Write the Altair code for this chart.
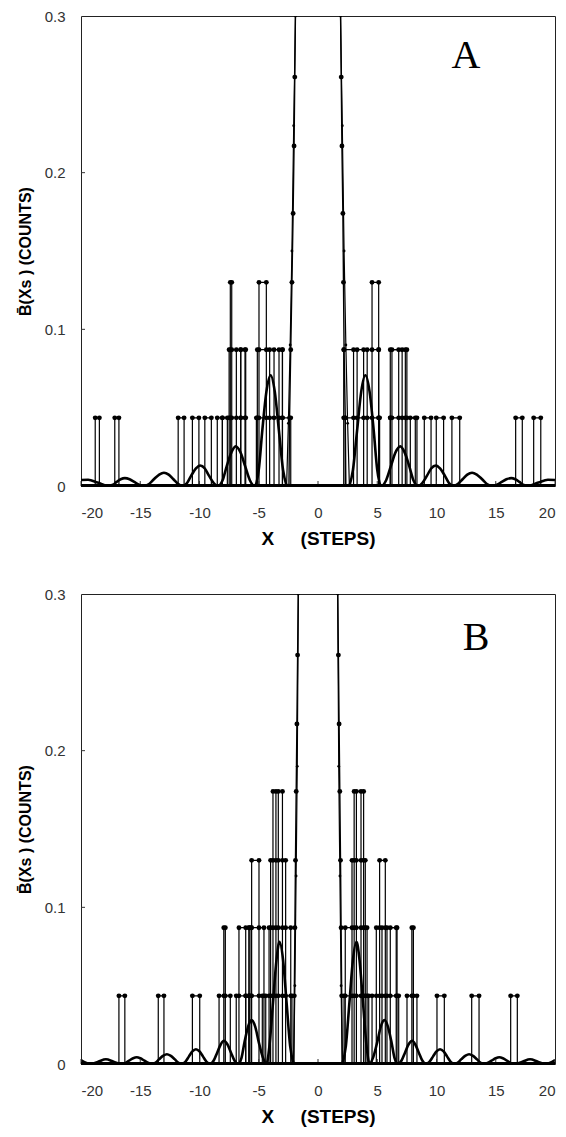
import altair as alt
import pandas as pd

# ---------------- data ----------------
X_TICKS = [-20, -15, -10, -5, 0, 5, 10, 15, 20]
Y_TICKS = [0, 0.1, 0.2, 0.3]
LEVELS = [0.0435, 0.087, 0.13, 0.174, 0.217, 0.261, 0.304]

# Panel A smooth curve: side lobes (left, right) and central lobe
A_left_x = [-20.0, -19.4, -18.6, -17.7, -17.3, -17.0, -16.65, -16.3, -15.9, -15.5, -15.1, -14.7,
            -14.25, -13.85, -13.4, -13.0, -12.6, -12.2, -11.8, -11.45,
            -11.05, -10.7, -10.3, -9.95, -9.55, -9.2, -8.8, -8.45,
            -8.05, -7.7, -7.3, -6.95, -6.55, -6.15, -5.75, -5.35,
            -5.0, -4.7, -4.35, -4.0, -3.65, -3.3, -2.95, -2.65]
A_left_y = [0.0038, 0.0040, 0.0022, 0.0, 0.0008, 0.0026, 0.0043, 0.0050, 0.0043, 0.0026, 0.0008, 0.0,
            0.0013, 0.0043, 0.0073, 0.0085, 0.0073, 0.0043, 0.0013, 0.0,
            0.0019, 0.0066, 0.0112, 0.0131, 0.0112, 0.0066, 0.0019, 0.0,
            0.0037, 0.0127, 0.0216, 0.0253, 0.0216, 0.0127, 0.0037, 0.0,
            0.0103, 0.0355, 0.0604, 0.0707, 0.0604, 0.0355, 0.0103, 0.0]
A_mid_x = [-2.65, -2.5, -2.35, -2.2, -2.05, -1.9, -1.6, 1.6, 1.9, 2.05, 2.2, 2.35, 2.5, 2.65]
A_mid_y = [0.0, 0.04, 0.09, 0.15, 0.23, 0.30, 0.50, 0.50, 0.30, 0.23, 0.15, 0.09, 0.04, 0.0]
A_right_x = [2.65, 2.95, 3.3, 3.65, 4.0, 4.35, 4.7, 5.0, 5.35,
             5.75, 6.15, 6.55, 6.95, 7.3, 7.7, 8.05, 8.45,
             8.8, 9.2, 9.55, 9.95, 10.3, 10.7, 11.05, 11.45,
             11.8, 12.2, 12.6, 13.0, 13.4, 13.85, 14.25, 14.7,
             15.1, 15.5, 15.9, 16.3, 16.65, 17.0, 17.3, 17.7, 18.6, 19.4, 20.0]
A_right_y = [0.0, 0.0103, 0.0355, 0.0604, 0.0707, 0.0604, 0.0355, 0.0103, 0.0,
             0.0037, 0.0127, 0.0216, 0.0253, 0.0216, 0.0127, 0.0037, 0.0,
             0.0019, 0.0066, 0.0112, 0.0131, 0.0112, 0.0066, 0.0019, 0.0,
             0.0013, 0.0043, 0.0073, 0.0085, 0.0073, 0.0043, 0.0013, 0.0,
             0.0008, 0.0026, 0.0043, 0.0050, 0.0043, 0.0026, 0.0008, 0.0, 0.0022, 0.0040, 0.0038]

# Panel A central staircase of counts
A_stair_x = [-2.45, -2.4, -2.3, -2.2, -2.1, -2.02, -1.96, -1.9, -1.85,
             1.85, 1.9, 1.96, 2.02, 2.1, 2.15, 2.2, 2.3, 2.35]
A_stair_y = [0.0, 0.0435, 0.087, 0.13, 0.174, 0.217, 0.261, 0.304, 0.35,
             0.35, 0.304, 0.261, 0.217, 0.174, 0.13, 0.087, 0.0435, 0.0]

# Panel A count bars
A_bar_left = [-18.8, -17.15, -11.8, -10.6, -9.55, -8.5, -8.07, -7.5, -7.4, -6.89, -6.52,
              -5.2, -5.12, -4.98, -4.08, -3.29,
              2.3, 2.17, 3.0, 3.85, 4.56, 6.1, 6.1, 6.24, 7.1, 7.79, 8.97, 9.98, 11.3, 16.68, 18.2]
A_bar_right = [-18.45, -16.8, -11.3, -10.05, -9.0, -8.07, -7.65, -6.1, -7.28, -6.52, -6.16,
               -2.3, -3.0, -4.36, -3.71, -3.0,
               5.2, 5.12, 3.3, 4.15, 5.12, 8.35, 7.5, 6.81, 7.37, 8.21, 9.54, 10.6, 11.96, 17.24, 18.8]
A_bar_height = [0.0435, 0.0435, 0.0435, 0.0435, 0.0435, 0.0435, 0.0435, 0.087, 0.13, 0.087, 0.087,
                0.0435, 0.087, 0.13, 0.087, 0.087,
                0.0435, 0.087, 0.087, 0.087, 0.13, 0.0435, 0.087, 0.087, 0.087, 0.0435, 0.0435, 0.0435,
                0.0435, 0.0435, 0.0435]

# Panel B smooth curve
B_left_x = [-20.0, -19.2, -18.55, -17.9, -17.25, -16.6, -16.25, -15.95, -15.6, -15.3, -15.0, -14.65,
            -14.3, -14.0, -13.7, -13.4, -13.05, -12.75, -12.45, -12.1, -11.8, -11.5,
            -11.2, -10.9, -10.6, -10.3, -10.0, -9.7, -9.4, -9.1,
            -8.8, -8.5, -8.2, -7.95, -7.65, -7.35, -7.05, -6.75,
            -6.45, -6.2, -5.9, -5.6, -5.3, -5.0, -4.65, -4.35,
            -4.1, -3.8, -3.5, -3.25, -2.95, -2.65, -2.35, -2.05]
B_left_y = [0.0025, 0.0, 0.0015, 0.0030, 0.0015, 0.0, 0.0006, 0.0021, 0.0037, 0.0043, 0.0037, 0.0021,
            0.0006, 0.0, 0.0009, 0.0031, 0.0053, 0.0062, 0.0053, 0.0031, 0.0009, 0.0,
            0.0014, 0.0047, 0.0080, 0.0094, 0.0080, 0.0047, 0.0014, 0.0,
            0.0022, 0.0074, 0.0126, 0.0148, 0.0126, 0.0074, 0.0022, 0.0,
            0.0041, 0.014, 0.0239, 0.028, 0.0239, 0.014, 0.0041, 0.0,
            0.0114, 0.039, 0.0666, 0.078, 0.0666, 0.039, 0.0114, 0.0]
B_mid_x = [-2.05, -1.95, -1.85, -1.75, -1.66, -1.4, 1.4, 1.66, 1.75, 1.85, 1.95, 2.05]
B_mid_y = [0.0, 0.05, 0.12, 0.19, 0.30, 0.50, 0.50, 0.30, 0.19, 0.12, 0.05, 0.0]
B_right_x = [2.05, 2.35, 2.65, 2.95, 3.25, 3.5, 3.8, 4.1, 4.35,
             4.65, 5.0, 5.3, 5.6, 5.9, 6.2, 6.45, 6.75,
             7.05, 7.35, 7.65, 7.95, 8.2, 8.5, 8.8, 9.1,
             9.4, 9.7, 10.0, 10.3, 10.6, 10.9, 11.2, 11.5,
             11.8, 12.1, 12.45, 12.75, 13.05, 13.4, 13.7, 14.0,
             14.3, 14.65, 15.0, 15.3, 15.6, 15.95, 16.25, 16.6, 17.25, 17.9, 18.55, 19.2, 20.0]
B_right_y = [0.0, 0.0114, 0.039, 0.0666, 0.078, 0.0666, 0.039, 0.0114, 0.0,
             0.0041, 0.014, 0.0239, 0.028, 0.0239, 0.014, 0.0041, 0.0,
             0.0022, 0.0074, 0.0126, 0.0148, 0.0126, 0.0074, 0.0022, 0.0,
             0.0014, 0.0047, 0.0080, 0.0094, 0.0080, 0.0047, 0.0014, 0.0,
             0.0009, 0.0031, 0.0053, 0.0062, 0.0053, 0.0031, 0.0009, 0.0,
             0.0006, 0.0021, 0.0037, 0.0043, 0.0037, 0.0021, 0.0006, 0.0, 0.0015, 0.0030, 0.0015, 0.0, 0.0025]

# Panel B central staircase of counts
B_stair_x = [-2.05, -2.0, -1.95, -1.9, -1.84, -1.78, -1.72, -1.66, -1.6,
             1.6, 1.66, 1.72, 1.78, 1.84, 1.9, 1.95, 2.0, 2.05]
B_stair_y = [0.0, 0.0435, 0.087, 0.13, 0.174, 0.217, 0.261, 0.304, 0.35,
             0.35, 0.304, 0.261, 0.217, 0.174, 0.13, 0.087, 0.0435, 0.0]

# Panel B count bars
B_bar_left = [-16.8, -13.48, -10.6, -8.35, -7.95, -6.9, -6.67, -5.82, -5.82, -5.82, -5.6,
              -4.7, -4.13, -4.0, -3.8, -3.55,
              2.2, 2.3, 2.87, 3.05, 3.24, 4.56, 4.92, 5.2, 5.4, 6.1, 7.51, 7.92, 10.04, 12.97, 16.26]
B_bar_right = [-16.3, -13.0, -9.98, -7.4, -7.82, -6.1, -6.1, -4.41, -4.56, -5.65, -4.98,
               -2.2, -2.3, -2.73, -3.0, -3.35,
               4.28, 4.14, 3.99, 3.85, 3.63, 6.81, 6.67, 5.68, 5.82, 6.6, 8.35, 8.05, 10.66, 13.59, 16.82]
B_bar_height = [0.0435, 0.0435, 0.0435, 0.0435, 0.087, 0.0435, 0.087, 0.0435, 0.087, 0.087, 0.13,
                0.0435, 0.087, 0.13, 0.174, 0.174,
                0.0435, 0.087, 0.13, 0.174, 0.174, 0.0435, 0.087, 0.13, 0.087, 0.087, 0.0435, 0.087,
                0.0435, 0.0435, 0.0435]

W, H = 474, 470

xs = alt.Scale(domain=[-20, 20], nice=False, zero=False)
ys = alt.Scale(domain=[0, 0.3], nice=False)

xaxis = alt.Axis(values=X_TICKS, labelExpr="'' + datum.value", title="X\u00a0\u00a0\u00a0\u00a0 (STEPS)",
                 ticks=False, domain=False, grid=False, labelPadding=19, titlePadding=9,
                 labelFontSize=15, titleFontSize=19, titleFontWeight="bold", labelColor="#333",
                 titleColor="black", labelFont="Liberation Sans", titleFont="Liberation Sans")
yaxis = alt.Axis(values=Y_TICKS, labelExpr="'' + datum.value", title="B\u0304(Xs ) (COUNTS)",
                 ticks=False, domain=False, grid=False, labelPadding=16, titlePadding=11,
                 labelFontSize=15, titleFontSize=16, titleFontWeight="bold", labelColor="#333",
                 titleColor="black", labelFont="Liberation Sans", titleFont="Liberation Sans")


def panel(lx_, ly_, mx, my, rx, ry, sx, sy, bl, br, bh, letter, tx, ty):
    side_df = pd.concat([
        pd.DataFrame({"x": lx_, "y": ly_, "seg": "left", "i": range(len(lx_))}),
        pd.DataFrame({"x": rx, "y": ry, "seg": "right", "i": range(len(rx))}),
    ])
    mid_df = pd.DataFrame({"x": mx, "y": my, "i": range(len(mx))})
    stair_df = pd.DataFrame({"x": sx, "y": sy, "i": range(len(sx))})
    bar_df = pd.DataFrame({"x1": bl, "x2": br, "h": bh, "base": [0.0] * len(bl)})

    mk = []
    for a, b, h in zip(bl, br, bh):
        for lv in LEVELS:
            if lv <= h + 1e-9:
                mk.append({"x": a, "y": lv})
                mk.append({"x": b, "y": lv})
    for a, b in zip(sx, sy):
        if 0 < b < 0.31:
            mk.append({"x": a, "y": b})
    mk_df = pd.DataFrame(mk)
    middots = mid_df[(mid_df["y"] > 0) & (mid_df["y"] < 0.31)]

    X = alt.X("x:Q", scale=xs, axis=xaxis)
    Y = alt.Y("y:Q", scale=ys, axis=yaxis)

    bars = alt.Chart(bar_df).mark_rect(fillOpacity=0, stroke="black", strokeWidth=1.2, clip=True).encode(
        x=alt.X("x1:Q", scale=xs, axis=xaxis), x2="x2:Q",
        y=alt.Y("h:Q", scale=ys, axis=yaxis), y2="base:Q")
    side = alt.Chart(side_df).mark_line(color="black", strokeWidth=2.6, interpolate="monotone",
                                        clip=True).encode(x=X, y=Y, detail="seg:N", order="i:Q")
    mid = alt.Chart(mid_df).mark_line(color="black", strokeWidth=1.2, interpolate="monotone",
                                      clip=True).encode(x=X, y=Y, order="i:Q")
    mid_pts = alt.Chart(middots).mark_point(filled=True, size=8, color="black", opacity=1,
                                            clip=True).encode(x=X, y=Y)
    stair = alt.Chart(stair_df).mark_line(color="black", strokeWidth=1.4, clip=True).encode(
        x=X, y=Y, order="i:Q")
    marks = alt.Chart(mk_df).mark_point(filled=True, size=24, color="black", opacity=1,
                                        clip=True).encode(x=X, y=Y)

    ytick_df = pd.DataFrame({"t": Y_TICKS[1:3]})
    yticks = alt.Chart(ytick_df).mark_rule(color="#333").encode(
        y=alt.Y("t:Q", scale=ys, axis=yaxis), x=alt.value(0), x2=alt.value(4))
    xtick_df = pd.DataFrame({"t": X_TICKS})
    xticks = alt.Chart(xtick_df).mark_rule(color="#333").encode(
        x=alt.X("t:Q", scale=xs, axis=xaxis), y=alt.value(H), y2=alt.value(H - 5))
    base = alt.Chart(xtick_df).mark_rule(color="black", strokeWidth=2).encode(
        x=alt.value(0), x2=alt.value(W), y=alt.value(H - 0.5))

    label = alt.Chart(pd.DataFrame({"label": [letter]})).mark_text(
        font="Liberation Serif", fontSize=40, align="center", baseline="alphabetic",
        color="black").encode(x=alt.value(tx), y=alt.value(ty), text="label:N")

    return alt.layer(bars, side, mid, mid_pts, stair, marks, yticks, xticks, base, label).properties(
        width=W, height=H)


pA = panel(A_left_x, A_left_y, A_mid_x, A_mid_y, A_right_x, A_right_y, A_stair_x, A_stair_y,
           A_bar_left, A_bar_right, A_bar_height, "A", 385, 52)
pB = panel(B_left_x, B_left_y, B_mid_x, B_mid_y, B_right_x, B_right_y, B_stair_x, B_stair_y,
           B_bar_left, B_bar_right, B_bar_height, "B", 395, 56)

chart = alt.vconcat(pA, pB, spacing=37).configure(
    padding={"left": 8, "top": 0, "right": 0, "bottom": 0}
).configure_view(stroke="#222", strokeWidth=1)

chart.save("out.html", embed_options={"renderer": "svg", "actions": False})
